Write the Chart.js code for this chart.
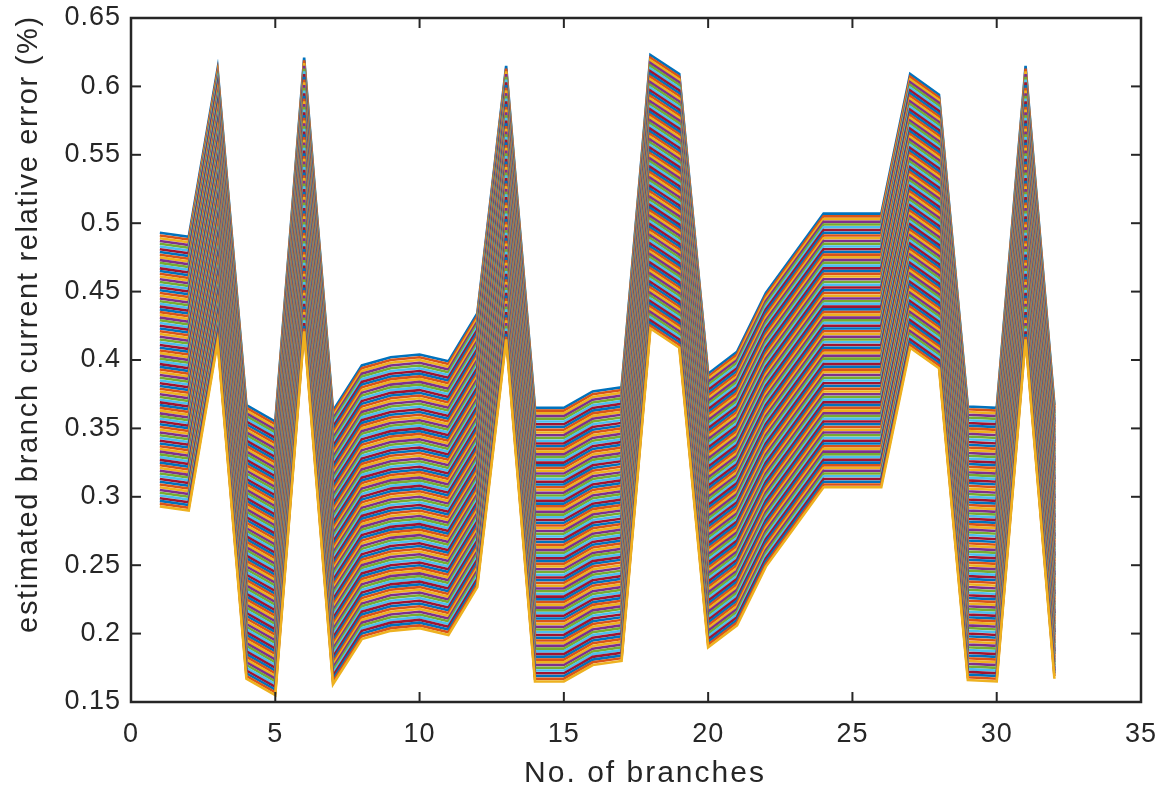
<!DOCTYPE html>
<html>
<head>
<meta charset="utf-8">
<script src="https://cdn.jsdelivr.net/npm/chart.js@4.4.1/dist/chart.umd.min.js"></script>
<style>
  html, body { margin: 0; padding: 0; background: #fff; }
</style>
</head>
<body>
<canvas id="chart" width="1173" height="787"></canvas>
<script>
// branch numbers on the x axis
const branches = [1, 2, 3, 4, 5, 6, 7, 8, 9, 10, 11, 12, 13, 14, 15, 16,
                  17, 18, 19, 20, 21, 22, 23, 24, 25, 26, 27, 28, 29, 30, 31, 32];

// upper edge of the band (first line)
const topError = [0.493, 0.490, 0.613, 0.367, 0.355, 0.621, 0.363, 0.396,
                  0.402, 0.404, 0.399, 0.434, 0.615, 0.365, 0.365, 0.377,
                  0.380, 0.623, 0.609, 0.390, 0.406, 0.449, 0.478, 0.507,
                  0.507, 0.507, 0.609, 0.594, 0.366, 0.365, 0.615, 0.367];

// each drawn line sits this far below the top line
const lineOffsets = [
  0.000, 0.002, 0.004, 0.006, 0.008, 0.010, 0.012, 0.014, 0.016, 0.018,
  0.020, 0.022, 0.024, 0.026, 0.028, 0.030, 0.032, 0.034, 0.036, 0.038,
  0.040, 0.042, 0.044, 0.046, 0.048, 0.050, 0.052, 0.054, 0.056, 0.058,
  0.060, 0.062, 0.064, 0.066, 0.068, 0.070, 0.072, 0.074, 0.076, 0.078,
  0.080, 0.082, 0.084, 0.086, 0.088, 0.090, 0.092, 0.094, 0.096, 0.098,
  0.100, 0.102, 0.104, 0.106, 0.108, 0.110, 0.112, 0.114, 0.116, 0.118,
  0.120, 0.122, 0.124, 0.126, 0.128, 0.130, 0.132, 0.134, 0.136, 0.138,
  0.140, 0.142, 0.144, 0.146, 0.148, 0.150, 0.152, 0.154, 0.156, 0.158,
  0.160, 0.162, 0.164, 0.166, 0.168, 0.170, 0.172, 0.174, 0.176, 0.178,
  0.180, 0.182, 0.184, 0.186, 0.188, 0.190, 0.192, 0.194, 0.196, 0.198,
  0.200
];

const lineColors = ['#0072BD', '#D95319', '#EDB120', '#7E2F8E', '#77AC30', '#4DBEEE', '#A2142F'];

const xTicks = [0, 5, 10, 15, 20, 25, 30, 35];
const yTicks = [0.15, 0.2, 0.25, 0.3, 0.35, 0.4, 0.45, 0.5, 0.55, 0.6, 0.65];

const TXT = '#262626';
const FONT = '"Liberation Sans", Arial, sans-serif';

const datasets = lineOffsets.map((off, k) => ({
  data: branches.map((b, i) => ({ x: b, y: topError[i] - off })),
  borderColor: lineColors[k % lineColors.length],
  borderWidth: 2.6,
  pointRadius: 0,
  tension: 0,
  fill: false,
  order: -k
}));

// box round the axes, inward ticks on all four sides, axis titles
const boxPlugin = {
  id: 'box',
  beforeDraw(chart) {
    chart.ctx.letterSpacing = '1px';
  },
  afterDraw(chart) {
    const { ctx, chartArea: a, scales } = chart;
    ctx.save();
    ctx.letterSpacing = '0px';
    ctx.strokeStyle = TXT;
    ctx.lineWidth = 2;
    const seg = (x1, y1, x2, y2) => { ctx.beginPath(); ctx.moveTo(x1, y1); ctx.lineTo(x2, y2); ctx.stroke(); };
    scales.x.ticks.forEach(t => {
      const px = scales.x.getPixelForValue(t.value);
      seg(px, a.bottom, px, a.bottom - 10);
      seg(px, a.top, px, a.top + 10);
    });
    scales.y.ticks.forEach(t => {
      const py = scales.y.getPixelForValue(t.value);
      seg(a.left, py, a.left + 10, py);
      seg(a.right, py, a.right - 10, py);
    });
    ctx.lineWidth = 2.5;
    ctx.strokeRect(a.left, a.top, a.right - a.left, a.bottom - a.top);

    ctx.fillStyle = TXT;
    ctx.textAlign = 'center';
    ctx.textBaseline = 'alphabetic';
    ctx.font = '30px ' + FONT;
    ctx.letterSpacing = '2px';
    ctx.fillText('No. of branches', 645, 782);

    ctx.font = '29px ' + FONT;
    ctx.letterSpacing = '1.7px';
    ctx.translate(37, 324);
    ctx.rotate(-Math.PI / 2);
    ctx.fillText('estimated branch current relative error (%)', 0, 0);
    ctx.restore();
  }
};

new Chart(document.getElementById('chart'), {
  type: 'line',
  data: { datasets },
  options: {
    responsive: false,
    animation: false,
    events: [],
    layout: { padding: { top: 18, right: 32, left: 0, bottom: 0 } },
    plugins: { legend: { display: false }, tooltip: { enabled: false } },
    scales: {
      x: {
        type: 'linear',
        min: 0, max: 35,
        afterBuildTicks: s => { s.ticks = xTicks.map(v => ({ value: v })); },
        afterFit: s => { s.height = 85; s.paddingLeft = 0; s.paddingRight = 0; },
        grid: { display: false, drawTicks: false },
        border: { display: false },
        ticks: {
          padding: 16,
          color: TXT,
          font: { family: FONT, size: 27 },
          maxRotation: 0,
          callback: v => String(v)
        }
      },
      y: {
        type: 'linear',
        min: 0.15, max: 0.65,
        afterBuildTicks: s => { s.ticks = yTicks.map(v => ({ value: v })); },
        afterFit: s => { s.width = 131; s.paddingTop = 0; s.paddingBottom = 0; },
        grid: { display: false, drawTicks: false },
        border: { display: false },
        ticks: {
          padding: 10,
          color: TXT,
          font: { family: FONT, size: 27 },
          callback: v => String(+v.toFixed(2))
        }
      }
    }
  },
  plugins: [boxPlugin]
});
</script>
</body>
</html>
